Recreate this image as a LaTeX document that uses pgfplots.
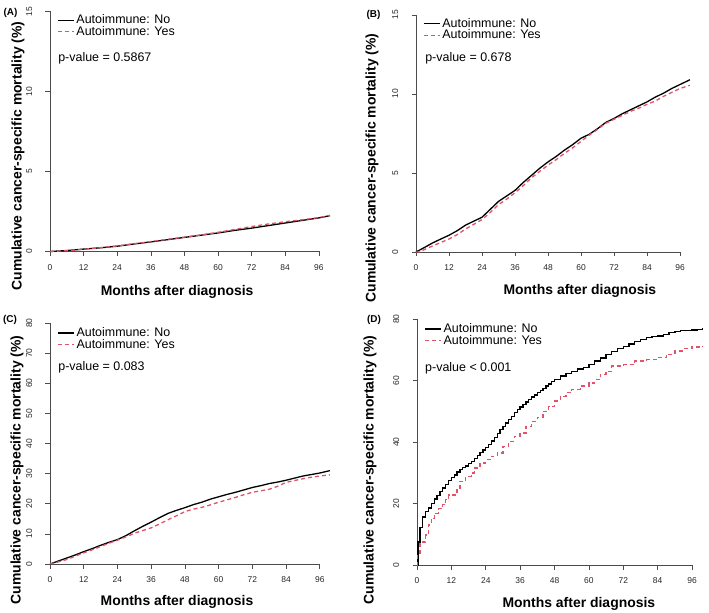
\documentclass[border=0pt]{standalone}
\usepackage{fontspec}
\setmainfont{Liberation Sans}
\usepackage{pgfplots}
\pgfplotsset{compat=1.18}
\definecolor{kmred}{HTML}{DF536B}
\definecolor{axgray}{gray}{0.3}
\pgfplotsset{
  km/.style={
    scale only axis,
    xmin=0, xmax=100, ymin=0,
    axis x line*=bottom, axis y line*=left,
    xtick={0,12,...,96},
    tick align=outside,
    major tick length=4.5bp,
    every tick/.style={axgray, line width=0.6bp},
    axis line style={axgray, line width=0.6bp},
    ticklabel style={font=\fontsize{8.5}{9}\selectfont, text=black!85},
    /pgf/number format/assume math mode=true,
    yticklabel style={rotate=90, anchor=south, inner sep=0pt, yshift=3bp},
    xticklabel style={anchor=north, inner sep=0pt},
    xticklabel shift=8bp,
    yticklabel shift=10bp,
    clip=false,
    label style={font=\bfseries\fontsize{14}{16}\selectfont},
    xlabel={Months after diagnosis},
    ylabel={Cumulative cancer-specific mortality (\%)},
    legend style={draw=none, fill=none, font=\fontsize{12.5}{13}\selectfont,
      anchor=north west, inner sep=0pt, row sep=-3bp,
      nodes={inner sep=2bp}},
    legend cell align=left,
    legend image code/.code={\draw[#1] (0bp,0bp) -- (16bp,0bp);},
  },
  blk/.style={black, line width=1.3bp},
  rdd/.style={kmred, line width=1.3bp, dash pattern=on 4bp off 3bp},
}
\newcommand{\pv}{\fontsize{12.5}{13}\selectfont}
\begin{document}
\begin{tikzpicture}
\path[use as bounding box] (0,0) rectangle (709bp,613bp);

% (A)
\begin{axis}[km, at={(50bp,361.5bp)}, anchor=south west,
  width=280bp, height=240bp, ymax=15, ytick={0,5,10,15},
  x axis line style={shorten >=11.2bp},
  xlabel style={at={(axis description cs:0.454,-0.169)}, anchor=center},
  ylabel style={at={(axis description cs:-0.114,0.398)}, anchor=center},
  legend style={at={(axis description cs:0.025,0.995)}}]
\addplot[blk] coordinates {(0,0) (6,0.06) (12,0.15) (18,0.23) (24,0.33) (30,0.47) (36,0.6) (42,0.74) (48,0.88) (54,1.02) (60,1.16) (66,1.32) (72,1.46) (78,1.62) (84,1.78) (90,1.94) (96,2.1) (100,2.24)};
\addlegendentry{Autoimmune: No}
\addplot[rdd] coordinates {(0,0) (6,0.05) (12,0.14) (18,0.24) (24,0.35) (30,0.49) (36,0.62) (42,0.76) (48,0.9) (54,1.04) (60,1.2) (66,1.38) (72,1.56) (78,1.72) (84,1.86) (90,1.98) (96,2.12) (100,2.26)};
\addlegendentry{Autoimmune: Yes}
\node[anchor=west, font=\pv, inner sep=0pt] at (axis description cs:0.029,0.805) {p-value = 0.5867};
\end{axis}

% (B)
\begin{axis}[km, at={(416bp,361bp)}, anchor=south west,
  width=275bp, height=237bp, ymax=15, ytick={0,5,10,15},
  x axis line style={shorten >=11bp},
  xlabel style={at={(axis description cs:0.596,-0.165)}, anchor=center},
  ylabel style={at={(axis description cs:-0.16,0.354)}, anchor=center},
  legend style={at={(axis description cs:0.025,0.995)}}]
\addplot[blk] coordinates {(0,0) (3,0.28) (6,0.57) (9,0.82) (12,1.06) (15,1.35) (18,1.7) (21,1.95) (24,2.2) (27,2.7) (30,3.2) (33,3.55) (36,3.9) (39,4.4) (42,4.85) (45,5.3) (48,5.7) (51,6.05) (54,6.45) (57,6.8) (60,7.2) (63,7.45) (66,7.8) (69,8.2) (72,8.45) (75,8.75) (78,9.0) (81,9.25) (84,9.5) (87,9.8) (90,10.05) (93,10.35) (96,10.6) (99.6,10.9)};
\addlegendentry{Autoimmune: No}
\addplot[rdd] coordinates {(0,0) (1.5,0) (3,0.15) (6,0.38) (9,0.6) (12,0.82) (15,1.1) (18,1.45) (21,1.75) (24,2.05) (27,2.5) (30,3.0) (33,3.35) (36,3.75) (39,4.2) (42,4.7) (45,5.1) (48,5.5) (51,5.85) (54,6.25) (57,6.6) (60,7.0) (63,7.4) (66,7.75) (69,8.15) (72,8.4) (75,8.65) (78,8.9) (81,9.1) (84,9.35) (87,9.55) (90,9.85) (93,10.1) (96,10.35) (99.6,10.55)};
\addlegendentry{Autoimmune: Yes}
\node[anchor=west, font=\pv, inner sep=0pt] at (axis description cs:0.033,0.818) {p-value = 0.678};
\end{axis}

% (C)
\begin{axis}[km, at={(50bp,49bp)}, anchor=south west,
  width=281bp, height=241bp, ymax=80, ytick={0,10,...,80},
  x axis line style={shorten >=11.2bp},
  xlabel style={at={(axis description cs:0.452,-0.158)}, anchor=center},
  ylabel style={at={(axis description cs:-0.117,0.39)}, anchor=center},
  legend style={at={(axis description cs:0.025,0.99)}}]
\addplot[blk] coordinates {(0,0) (3,1.0) (6,2.0) (9,3.0) (12,4.1) (15,5.1) (18,6.2) (21,7.2) (24,8.1) (27,9.4) (30,11.0) (33,12.5) (36,13.9) (39,15.4) (42,16.8) (45,17.8) (48,18.7) (51,19.7) (54,20.5) (57,21.5) (60,22.3) (63,23.1) (66,23.8) (69,24.6) (72,25.4) (75,26.0) (78,26.7) (81,27.2) (84,27.8) (87,28.5) (90,29.2) (93,29.7) (96,30.2) (99.6,31.0)};
\addlegendentry{Autoimmune: No}
\addplot[rdd] coordinates {(0,0) (3,0.7) (6,1.5) (9,2.6) (12,3.7) (15,4.7) (18,5.8) (21,6.9) (24,7.9) (27,9.0) (30,10.2) (33,11.1) (36,12.0) (39,13.3) (42,14.7) (45,16.0) (48,17.4) (51,18.2) (54,18.8) (57,19.6) (60,20.5) (63,21.3) (66,22.1) (69,23.0) (72,23.8) (75,24.3) (78,24.8) (81,25.8) (84,27.1) (87,27.7) (90,28.3) (93,28.8) (96,29.2) (99.6,29.6)};
\addlegendentry{Autoimmune: Yes}
\node[anchor=west, font=\pv, inner sep=0pt] at (axis description cs:0.029,0.815) {p-value = 0.083};
\end{axis}

% (D)
\begin{axis}[km, at={(417bp,48bp)}, anchor=south west,
  width=286.5bp, height=246bp, ymax=80, ytick={0,20,...,80},
  x axis line style={shorten >=11.5bp},
  xlabel style={at={(axis description cs:0.565,-0.159)}, anchor=center},
  ylabel style={at={(axis description cs:-0.164,0.386)}, anchor=center},
  legend style={at={(axis description cs:0.025,0.99)}}]
\addplot[blk, const plot] coordinates {(0,0) (0.3,7.5) (1,12.2) (2,15.6) (3,17.5) (4,18.5) (5,20) (6,21.5) (7,22.5) (8,23.8) (9,25) (10,26.2) (11,27.5) (12,28.5) (13,29.3) (14,30.2) (15,31) (16,31.6) (17,32.2) (18,32.9) (19,33.7) (20,34.6) (21,35.6) (22,36.6) (23,37.4) (24,38.2) (25,39.2) (26,40.3) (27,41.5) (28,42.8) (29,44) (30,45) (31,46.2) (32,47.3) (33,48.4) (34,49.5) (35,50.5) (36,51.4) (37,52.2) (38,53.0) (39,53.8) (40,54.6) (41,55.3) (42,56.0) (43,56.8) (44,57.5) (45,58.2) (46,58.9) (47,59.6) (48,60.3) (50,61.5) (52,62.3) (54,63.0) (56,63.7) (58,64.3) (60,65.2) (62,66.3) (64,67.3) (66,68.4) (68,69.4) (70,70.3) (72,71.1) (74,71.9) (76,72.6) (78,73.3) (80,73.9) (82,74.2) (84,74.5) (86,75.0) (88,75.5) (90,75.9) (92,76.3) (96,76.4) (98,76.7) (99.6,77.0)};
\addlegendentry{Autoimmune: No}
\addplot[rdd, const plot] coordinates {(0,0) (0.2,3.5) (1,7.5) (3,9.8) (4,13) (5,15.2) (6,16.8) (7.5,18.3) (9,19.6) (10,21.2) (11,22.8) (14,25) (15,27.2) (17,28.8) (19,29.9) (20,31.5) (22,33.2) (24,34.2) (26,35.3) (28,36.4) (30,38.6) (32,40.2) (34,41.8) (36,42.9) (38,45.1) (40,46.7) (42,48) (44,50) (46,51.6) (48,53.3) (50,54.9) (52,56) (54,57.1) (57,58.2) (60,59.2) (62,60.3) (64,62) (66,63) (68,64.7) (72,65.2) (76,66.3) (80,66.8) (84,67.4) (87,68.5) (90,69.6) (93,70.3) (96,70.9) (99.6,71.2)};
\addlegendentry{Autoimmune: Yes}
\node[anchor=west, font=\pv, inner sep=0pt] at (axis description cs:0.028,0.8) {p-value < 0.001};
\end{axis}

\node[font=\bfseries\fontsize{10}{12}\selectfont] at (10.5bp,600bp) {(A)};
\node[font=\bfseries\fontsize{10}{12}\selectfont] at (373.5bp,598bp) {(B)};
\node[font=\bfseries\fontsize{10}{12}\selectfont] at (10bp,293bp) {(C)};
\node[font=\bfseries\fontsize{10}{12}\selectfont] at (374bp,293bp) {(D)};
\end{tikzpicture}
\end{document}
